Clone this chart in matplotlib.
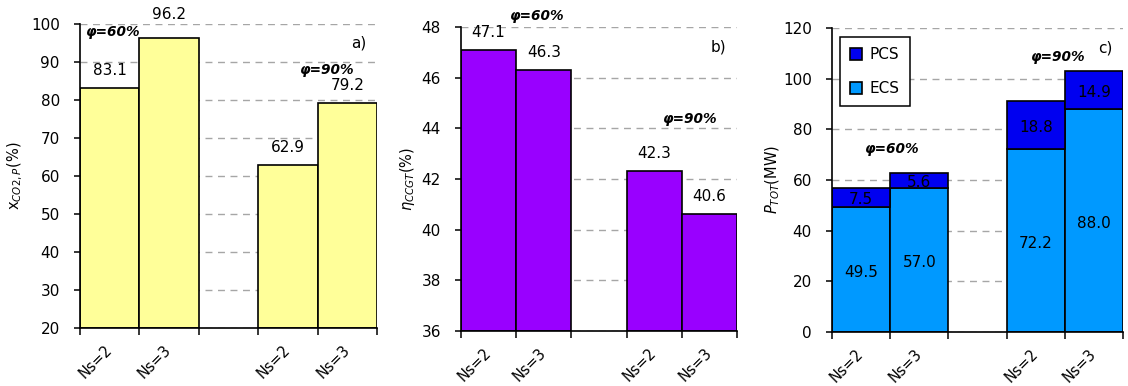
import matplotlib
matplotlib.use("Agg")
import matplotlib.pyplot as plt
from matplotlib.patches import Patch

plt.rcParams['font.family'] = ['DejaVu Sans']
plt.rcParams['mathtext.fontset'] = 'dejavusans'

# ---------------- data ----------------
categories = ["Ns=2", "Ns=3", "Ns=2", "Ns=3"]
slots = [0, 1, 3, 4]                       # slot 2 is an empty gap between groups
x_co2 = [83.1, 96.2, 62.9, 79.2]           # panel a
eta_ccgt = [47.1, 46.3, 42.3, 40.6]        # panel b
p_ecs = [49.5, 57.0, 72.2, 88.0]           # panel c, lower segment
p_pcs = [7.5, 5.6, 18.8, 14.9]             # panel c, upper segment
group_labels = ["\u03c6=60%", "\u03c6=90%"]

# ---------------- style ----------------
FS = 11
C_YEL = "#FFFF99"
C_PUR = "#9900FF"
C_ECS = "#0099FF"
C_PCS = "#0000F0"
GRID = "#A6A6A6"

fig = plt.figure(figsize=(11.28, 3.86), dpi=100)
ax_a = fig.add_axes([0.0709, 0.1503, 0.2633, 0.7876])
ax_b = fig.add_axes([0.4087, 0.1425, 0.2447, 0.7876])
ax_c = fig.add_axes([0.7376, 0.1399, 0.2580, 0.7876])


def style(ax, ylim, yticks, ylabel, lblx):
    ax.set_xlim(-0.5, 4.5)
    ax.set_ylim(*ylim)
    ax.set_yticks(yticks)
    ax.tick_params(axis='y', labelsize=FS, length=4, width=1.1, direction='out', pad=10.5)
    for s in ['top', 'right']:
        ax.spines[s].set_visible(False)
    for s in ['left', 'bottom']:
        ax.spines[s].set_linewidth(1.2)
    ax.set_axisbelow(True)
    ax.yaxis.grid(True, color=GRID, linestyle=(0, (5, 4)), linewidth=1)
    ax.set_xticks(slots)
    ax.set_xticklabels(categories, rotation=45, ha='right', va='center',
                       rotation_mode='anchor', fontsize=10.5)
    ax.tick_params(axis='x', which='major', length=0, pad=14)
    ax.set_xticks([-0.5, 0.5, 1.5, 2.5, 3.5, 4.5], minor=True)
    ax.tick_params(axis='x', which='minor', length=5, width=1.1, direction='out')
    ax.set_ylabel(ylabel, fontsize=10.5)
    ax.yaxis.set_label_coords(lblx, 0.5)


GRP = dict(fontsize=9.8, fontweight='bold', style='italic', ha='center', va='center')

# ---------- panel a ----------
ax_a.bar(slots, [v - 20 for v in x_co2], bottom=20, width=1.0, color=C_YEL,
         edgecolor='black', linewidth=1.2, zorder=2)
style(ax_a, (20, 100), range(20, 101, 10), r'x$_{\mathit{CO2,P}}$(%)', -0.185)
offs_a = [12.6, 17.3, 12.6, 12.6]
for x, v, o in zip(slots, x_co2, offs_a):
    ax_a.annotate(f"{v:.1f}", (x, v), xytext=(0, o), textcoords='offset points',
                  ha='center', va='center', fontsize=FS, annotation_clip=False)
ax_a.text(0.056, 97.9, group_labels[0], **GRP)
ax_a.text(3.66, 87.9, group_labels[1], **GRP)
ax_a.text(4.2, 95.0, "a)", fontsize=FS, ha='center', va='center')

# ---------- panel b ----------
ax_b.bar(slots, [v - 36 for v in eta_ccgt], bottom=36, width=1.0, color=C_PUR,
         edgecolor='black', linewidth=1.2, zorder=2)
style(ax_b, (36, 48), range(36, 49, 2), r'$\eta_{\mathit{CCGT}}$(%)', -0.159)
for x, v in zip(slots, eta_ccgt):
    ax_b.annotate(f"{v:.1f}", (x, v), xytext=(0, 12.8), textcoords='offset points',
                  ha='center', va='center', fontsize=FS, annotation_clip=False)
ax_b.text(0.877, 48.43, group_labels[0], **GRP)
ax_b.text(3.65, 44.37, group_labels[1], **GRP)
ax_b.text(4.16, 47.2, "b)", fontsize=FS, ha='center', va='center')

# ---------- panel c ----------
ax_c.bar(slots, p_ecs, width=1.0, color=C_ECS, edgecolor='black', linewidth=1.2, zorder=2)
ax_c.bar(slots, p_pcs, bottom=p_ecs, width=1.0, color=C_PCS, edgecolor='black',
         linewidth=1.2, zorder=2)
style(ax_c, (0, 120), range(0, 121, 20), r'$P_{TOT}$(MW)', -0.172)
for x, e, p in zip(slots, p_ecs, p_pcs):
    ax_c.text(x, e / 2 - 1.2, f"{e:.1f}", ha='center', va='center', fontsize=FS, zorder=3)
    ax_c.text(x, e + p / 2 - 0.8, f"{p:.1f}", ha='center', va='center', fontsize=FS, zorder=3)
ax_c.text(0.53, 72.4, group_labels[0], **GRP)
ax_c.text(3.38, 108.6, group_labels[1], **GRP)
ax_c.text(4.19, 112.1, "c)", fontsize=FS, ha='center', va='center')

handles = [Patch(facecolor=C_PCS, edgecolor='black', linewidth=1.2, label='PCS'),
           Patch(facecolor=C_ECS, edgecolor='black', linewidth=1.2, label='ECS')]
leg = ax_c.legend(handles=handles, loc='upper left', bbox_to_anchor=(0.027, 0.97),
                  fontsize=FS, frameon=True, fancybox=False, framealpha=1,
                  edgecolor='black', handlelength=0.8, handleheight=0.8,
                  handletextpad=0.5, labelspacing=1.25, borderpad=0.65,
                  borderaxespad=0)
leg.get_frame().set_linewidth(1.1)

fig.savefig("out.png", dpi=100)
